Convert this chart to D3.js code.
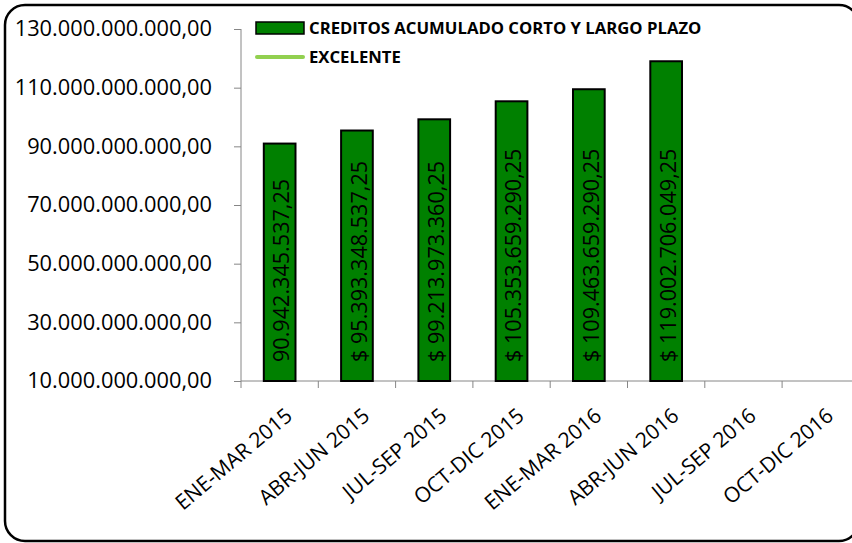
<!DOCTYPE html>
<html>
<head>
<meta charset="utf-8">
<script src="https://cdn.jsdelivr.net/npm/d3@7"></script>
<style>
  body { margin: 0; background: #fff; }
  text { font-family: "Open Sans", sans-serif; }
</style>
</head>
<body>
<div id="chart"></div>
<script>
// data
const categories = ["ENE-MAR 2015", "ABR-JUN 2015", "JUL-SEP 2015", "OCT-DIC 2015",
                    "ENE-MAR 2016", "ABR-JUN 2016", "JUL-SEP 2016", "OCT-DIC 2016"];
const creditos = [90942345537.25, 95393348537.25, 99213973360.25, 105353659290.25,
                  109463659290.25, 119002706049.25];
const labelPrefix = ["", "$ ", "$ ", "$ ", "$ ", "$ "];
const yTicks = [10e9, 30e9, 50e9, 70e9, 90e9, 110e9, 130e9];
const legendNames = ["CREDITOS ACUMULADO CORTO Y LARGO PLAZO", "EXCELENTE"];

function drawChart() {
    const W = 852, H = 543;
    var margin = {top: 29, left: 241, bottom: 162},
        plotW = 77.3 * categories.length,
        plotH = H - margin.top - margin.bottom;

    var svg = d3.select("#chart")
        .append("svg")
        .attr("width", W)
        .attr("height", H);

    // outer rounded frame (runs off the right edge like the original)
    svg.append("rect")
        .attr("x", 5).attr("y", 5)
        .attr("width", 854).attr("height", 536)
        .attr("rx", 20).attr("ry", 20)
        .attr("fill", "#fff")
        .attr("stroke", "#000")
        .attr("stroke-width", 2.5);

    var g = svg.append("g")
        .attr("transform", "translate(" + margin.left + "," + margin.top + ")");

    var locale = d3.formatLocale({decimal: ",", thousands: ".", grouping: [3], currency: ["$ ", ""]});
    var fmtTick = locale.format(",.2f");

    var x = d3.scaleBand()
        .domain(categories)
        .range([0, plotW])
        .paddingInner(0.59)
        .paddingOuter(0.295);

    var y = d3.scaleLinear()
        .domain([10e9, 130e9])
        .range([plotH, 0]);

    // Y axis
    var yAxis = g.append("g")
        .call(d3.axisLeft(y).tickValues(yTicks).tickFormat(fmtTick).tickSize(7).tickPadding(22));
    yAxis.select(".domain").attr("stroke", "#868686").attr("d", "M0," + y(130e9) + "V" + plotH);
    yAxis.selectAll(".tick line").attr("stroke", "#868686");
    yAxis.selectAll(".tick text")
        .attr("font-size", "21.8px")
        .attr("font-family", "Open Sans")
        .attr("fill", "#000");

    // X axis (ticks on band edges)
    var xAxis = g.append("g")
        .attr("transform", "translate(0," + plotH + ")");
    xAxis.append("line")
        .attr("x1", 0).attr("x2", plotW)
        .attr("stroke", "#868686");
    xAxis.selectAll(".xtick")
        .data(d3.range(categories.length + 1))
        .enter().append("line")
        .attr("x1", function(i){ return i * x.step(); })
        .attr("x2", function(i){ return i * x.step(); })
        .attr("y1", 0).attr("y2", 7)
        .attr("stroke", "#868686");
    xAxis.selectAll(".xlabel")
        .data(categories)
        .enter().append("text")
        .attr("transform", function(d){
            return "translate(" + (x(d) + x.bandwidth() / 2 + 14) + ",37) rotate(-40)";
        })
        .attr("text-anchor", "end")
        .attr("font-size", "21px")
        .attr("fill", "#000")
        .text(function(d){ return d; });

    // bars
    g.selectAll(".bar")
        .data(creditos)
        .enter().append("rect")
        .attr("x", function(d, i){ return x(categories[i]); })
        .attr("y", function(d){ return y(d); })
        .attr("width", x.bandwidth())
        .attr("height", function(d){ return plotH - y(d); })
        .attr("fill", "#008000")
        .attr("stroke", "#000")
        .attr("stroke-width", 2);

    // value labels inside bars
    g.selectAll(".lbl")
        .data(creditos)
        .enter().append("text")
        .attr("transform", function(d, i){
            return "translate(" + (x(categories[i]) + x.bandwidth() / 2 + 2) + "," + (plotH - 19) + ") rotate(-90)";
        })
        .attr("dy", "0.36em")
        .attr("text-anchor", "start")
        .attr("font-size", "21.6px")
        .attr("fill", "#000")
        .text(function(d, i){ return labelPrefix[i] + fmtTick(d); });

    // legend
    var leg = svg.append("g");
    leg.append("rect")
        .attr("x", 256).attr("y", 22)
        .attr("width", 48).attr("height", 12)
        .attr("fill", "#008000")
        .attr("stroke", "#000")
        .attr("stroke-width", 1.5);
    leg.append("line")
        .attr("x1", 257).attr("x2", 303)
        .attr("y1", 57).attr("y2", 57)
        .attr("stroke", "#92D050")
        .attr("stroke-width", 4)
        .attr("stroke-linecap", "round");
    leg.selectAll(".legtext")
        .data(legendNames)
        .enter().append("text")
        .attr("x", 309)
        .attr("y", function(d, i){ return 28 + i * 29; })
        .attr("dy", "0.36em")
        .attr("font-size", "16.7px")
        .attr("font-weight", "bold")
        .attr("fill", "#000")
        .text(function(d){ return d; });
}

drawChart();
</script>
</body>
</html>
